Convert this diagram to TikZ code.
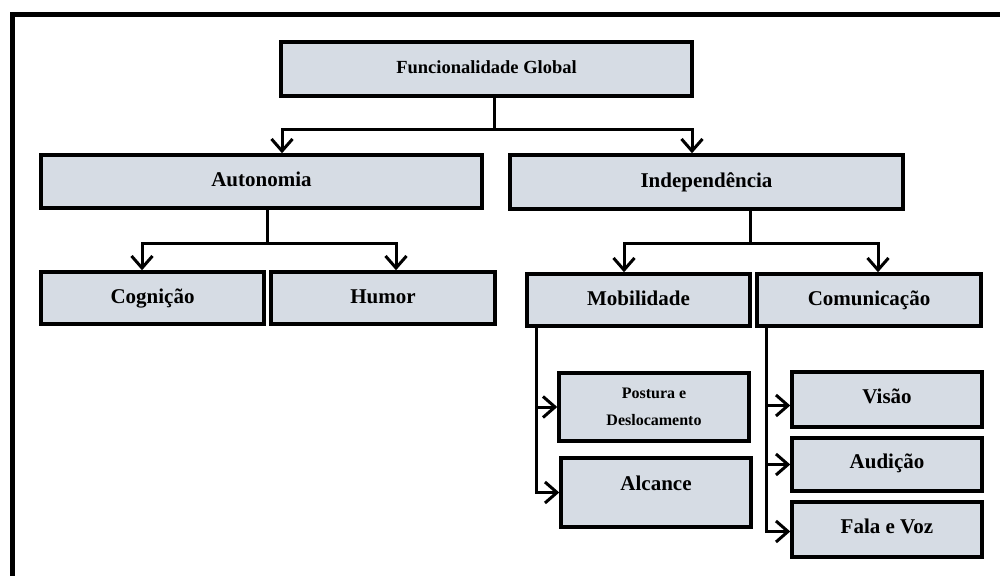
\documentclass[tikz,border=0pt]{standalone}
\usepackage{fontspec}
\setmainfont{Liberation Serif}
\usetikzlibrary{arrows.meta}
\definecolor{boxfill}{HTML}{D6DCE4}
\tikzset{
  box/.style={draw=black, line width=3.5pt, fill=boxfill, inner sep=0pt,
    font=\bfseries\fontsize{21}{25}\selectfont, text height=14pt, text depth=4pt, align=center},
  smallbox/.style={draw=black, line width=3.5pt, fill=boxfill, inner sep=0pt,
    font=\bfseries\fontsize{16}{27}\selectfont, align=center},
  conn/.style={line width=3pt, draw=black},
  arr/.style={conn, -{Straight Barb[length=12pt,width=21pt,line width=3pt]}},
  frame/.style={line width=5pt, draw=black}
}
\begin{document}
\begin{tikzpicture}[x=1pt,y=-1pt]
\useasboundingbox (0,0) rectangle (1000,575);
\clip (0,0) rectangle (1000,575);
\fill[white] (0,0) rectangle (1000,575);
\draw[frame] (12.5,15) rectangle (1012,590);

% boxes
\node[box, minimum width=411pt, minimum height=54pt, font=\bfseries\fontsize{18.5}{22}\selectfont] (top) at (486.5,69) {Funcionalidade Global};
\node[box, minimum width=441pt, minimum height=53pt] (auto) at (261.5,181.5) {Autonomia};
\node[box, minimum width=393pt, minimum height=54pt] (indep) at (706.5,182) {Independência};
\node[box, minimum width=223pt, minimum height=52pt] (cog) at (152.5,298) {Cognição};
\node[box, minimum width=224pt, minimum height=52pt] (hum) at (383,298) {Humor};
\node[box, minimum width=223pt, minimum height=52pt] (mob) at (638.5,300) {Mobilidade};
\node[box, minimum width=224pt, minimum height=52pt] (com) at (869,300) {Comunicação};
\node[smallbox, minimum width=190pt, minimum height=68pt] (post) at (654,407) {Postura e\\Deslocamento};
\node[box, minimum width=190pt, minimum height=69pt, text height=14pt, text depth=19pt] (alc) at (656,492.5) {Alcance};
\node[box, minimum width=190pt, minimum height=55pt, text depth=7pt] (vis) at (887,399.5) {Visão};
\node[box, minimum width=190pt, minimum height=53pt, text depth=7pt] (aud) at (887,464.5) {Audição};
\node[box, minimum width=190pt, minimum height=55pt, text depth=7pt] (fala) at (887,529.5) {Fala e Voz};

% junction coordinates
\coordinate (j1) at (494,129);
\coordinate (ja) at (282,129);
\coordinate (jb) at (692,129);
\coordinate (j2) at (267,243);
\coordinate (jc) at (142,243);
\coordinate (jd) at (396,243);
\coordinate (j3) at (750,243);
\coordinate (je) at (624,243);
\coordinate (jf) at (878,243);
\coordinate (m1) at (536,0);
\coordinate (c1) at (766,0);

% connectors
\draw[conn] (j1 |- top.south) -- (j1);
\draw[arr] (j1) -| (ja |- auto.north);
\draw[arr] (j1) -| (jb |- indep.north);

\draw[conn] (j2 |- auto.south) -- (j2);
\draw[arr] (j2) -| (jc |- cog.north);
\draw[arr] (j2) -| (jd |- hum.north);

\draw[conn] (j3 |- indep.south) -- (j3);
\draw[arr] (j3) -| (je |- mob.north);
\draw[arr] (j3) -| (jf |- com.north);

\draw[arr] (m1 |- mob.south) |- (post.west);
\draw[arr] (m1 |- mob.south) |- (alc.west);

\draw[arr] (c1 |- com.south) |- ([yshift=-6pt]vis.west);
\draw[arr] (c1 |- com.south) |- (aud.west);
\draw[arr] (c1 |- com.south) |- ([yshift=-2pt]fala.west);
\end{tikzpicture}
\end{document}
